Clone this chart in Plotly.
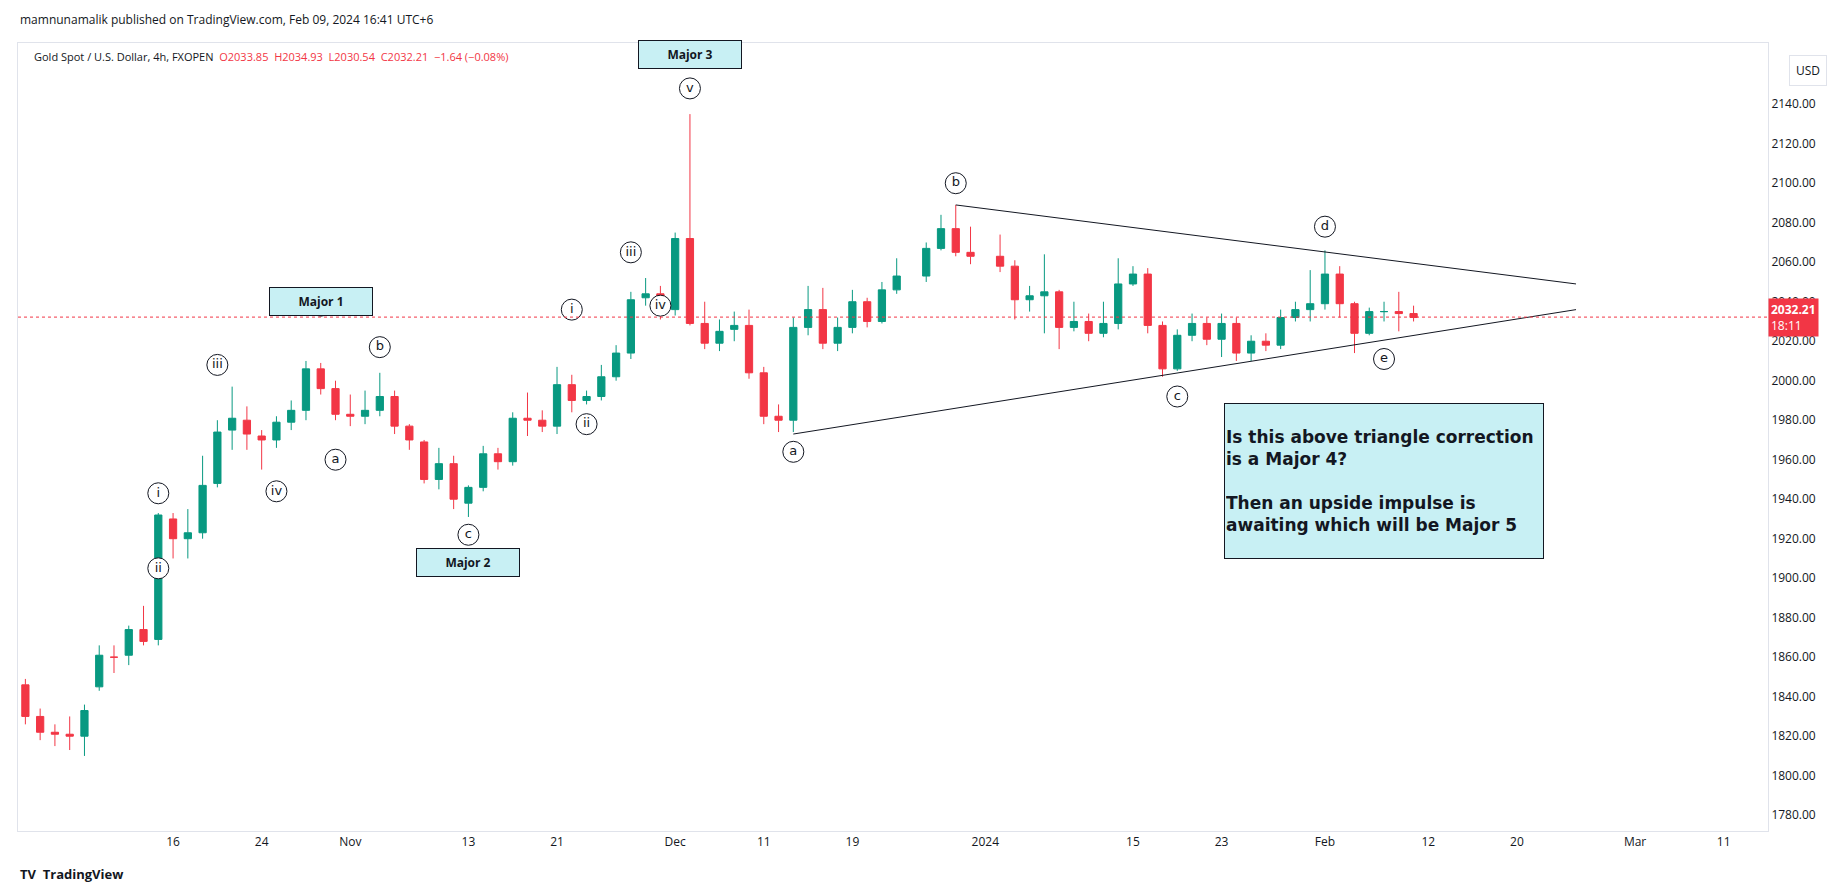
import plotly.graph_objects as go

# daily candles (trading days only)
dates = ["2023-10-02", "2023-10-03", "2023-10-04", "2023-10-05", "2023-10-06",
         "2023-10-09", "2023-10-10", "2023-10-11", "2023-10-12", "2023-10-13",
         "2023-10-16", "2023-10-17", "2023-10-18", "2023-10-19", "2023-10-20",
         "2023-10-23", "2023-10-24", "2023-10-25", "2023-10-26", "2023-10-27",
         "2023-10-30", "2023-10-31", "2023-11-01", "2023-11-02", "2023-11-03",
         "2023-11-06", "2023-11-07", "2023-11-08", "2023-11-09", "2023-11-10",
         "2023-11-13", "2023-11-14", "2023-11-15", "2023-11-16", "2023-11-17",
         "2023-11-20", "2023-11-21", "2023-11-22", "2023-11-23", "2023-11-24",
         "2023-11-27", "2023-11-28", "2023-11-29", "2023-11-30", "2023-12-01",
         "2023-12-04", "2023-12-05", "2023-12-06", "2023-12-07", "2023-12-08",
         "2023-12-11", "2023-12-12", "2023-12-13", "2023-12-14", "2023-12-15",
         "2023-12-18", "2023-12-19", "2023-12-20", "2023-12-21", "2023-12-22",
         "2023-12-26", "2023-12-27", "2023-12-28", "2023-12-29", "2024-01-02",
         "2024-01-03", "2024-01-04", "2024-01-05", "2024-01-08", "2024-01-09",
         "2024-01-10", "2024-01-11", "2024-01-12", "2024-01-15", "2024-01-16",
         "2024-01-17", "2024-01-18", "2024-01-19", "2024-01-22", "2024-01-23",
         "2024-01-24", "2024-01-25", "2024-01-26", "2024-01-29", "2024-01-30",
         "2024-01-31", "2024-02-01", "2024-02-02", "2024-02-05", "2024-02-06",
         "2024-02-07", "2024-02-08", "2024-02-09"]
opens = [1846, 1830, 1822, 1821, 1820, 1845, 1860, 1861, 1874, 1869,
         1930, 1920, 1923, 1948, 1975, 1980, 1972, 1970, 1979, 1985,
         2006, 1996, 1983, 1982, 1985, 1992, 1977, 1969, 1950, 1958,
         1938, 1946, 1963, 1959, 1981, 1980, 1977, 1998, 1990, 1992,
         2002, 2014, 2042, 2044, 2036, 2072, 2029, 2019, 2026, 2028,
         2004, 1982, 1980, 2027, 2036, 2019, 2027, 2040, 2030, 2046,
         2053, 2067, 2077, 2065, 2063, 2058, 2041, 2043, 2045, 2027,
         2030, 2024, 2029, 2049, 2054, 2028, 2006, 2023, 2029, 2021,
         2029, 2014, 2020, 2018, 2032, 2036, 2039, 2054, 2039, 2024,
         2035, 2035, 2034]
highs = [1849, 1834, 1826, 1830, 1836, 1866, 1866, 1876, 1886, 1933,
         1933, 1935, 1962, 1980, 1997, 1987, 1975, 1982, 1990, 2010,
         2009, 2000, 1993, 1995, 2004, 1995, 1978, 1970, 1966, 1962,
         1947, 1967, 1966, 1984, 1994, 1985, 2007, 2003, 1995, 2008,
         2018, 2045, 2052, 2048, 2075, 2135, 2040, 2031, 2035, 2036,
         2007, 1988, 2032, 2048, 2047, 2032, 2046, 2042, 2050, 2062,
         2070, 2084, 2089, 2078, 2074, 2061, 2048, 2064, 2046, 2040,
         2034, 2040, 2062, 2058, 2057, 2030, 2026, 2034, 2032, 2034,
         2032, 2023, 2024, 2036, 2040, 2056, 2066, 2058, 2040, 2037,
         2040, 2045, 2038]
lows = [1826, 1818, 1815, 1813, 1810, 1843, 1852, 1856, 1866, 1866,
         1910, 1910, 1920, 1946, 1965, 1965, 1955, 1966, 1975, 1980,
         1993, 1980, 1977, 1978, 1982, 1973, 1965, 1948, 1945, 1935,
         1931, 1944, 1955, 1957, 1972, 1974, 1973, 1984, 1988, 1990,
         2000, 2011, 2038, 2031, 2033, 2028, 2016, 2015, 2020, 2001,
         1978, 1974, 1974, 2023, 2016, 2015, 2024, 2027, 2029, 2044,
         2050, 2066, 2063, 2059, 2055, 2031, 2035, 2024, 2016, 2025,
         2020, 2022, 2026, 2048, 2024, 2002, 2005, 2020, 2018, 2012,
         2010, 2010, 2015, 2016, 2030, 2030, 2036, 2032, 2014, 2023,
         2030, 2025, 2030]
closes = [1830, 1822, 1821, 1820, 1833, 1861, 1860, 1874, 1868, 1932,
          1920, 1923, 1947, 1974, 1981, 1973, 1970, 1979, 1985, 2006,
          1996, 1983, 1982, 1985, 1992, 1977, 1970, 1950, 1958, 1940,
          1946, 1963, 1959, 1981, 1980, 1977, 1998, 1990, 1992, 2002,
          2014, 2041, 2044, 2036, 2072, 2029, 2019, 2025, 2028, 2004,
          1982, 1980, 2027, 2036, 2019, 2027, 2040, 2030, 2046, 2053,
          2067, 2077, 2065, 2063, 2058, 2041, 2043, 2045, 2027, 2030,
          2024, 2029, 2049, 2054, 2028, 2006, 2023, 2029, 2021, 2029,
          2014, 2020, 2018, 2032, 2036, 2039, 2054, 2039, 2024, 2035,
          2035, 2034, 2032]

# Elliott wave circle labels
wave_text = ["i", "ii", "iii", "iv", "v", "a", "b", "c",
             "i", "ii", "iii", "iv", "v", "a", "b", "c", "d", "e"]
wave_x = ["2023-10-13", "2023-10-13", "2023-10-19", "2023-10-25", "2023-10-30",
          "2023-10-31", "2023-11-03", "2023-11-13", "2023-11-22", "2023-11-23",
          "2023-11-28", "2023-11-30", "2023-12-04", "2023-12-13", "2023-12-28",
          "2024-01-18", "2024-02-01", "2024-02-07"]
wave_y = [1943, 1905, 2008, 1944, 2038, 1960, 2017, 1922, 2036, 1978,
          2065, 2038, 2148, 1964, 2100, 1992, 2078, 2011]

major_text = ["Major 1", "Major 2", "Major 3"]
major_x = ["2023-10-30", "2023-11-13", "2023-12-04"]
major_y = [2040, 1908, 2165]

# triangle trendlines
lower_line = (["2023-12-13", "2024-02-26"], [1973, 2036])
upper_line = (["2023-12-28", "2024-02-26"], [2089, 2049])

last_price = 2032.21
price_ticks = list(range(1780, 2141, 20))
tick_vals = ["2023-10-16", "2023-10-24", "2023-11-01", "2023-11-13", "2023-11-21",
             "2023-12-01", "2023-12-11", "2023-12-19", "2024-01-01", "2024-01-15",
             "2024-01-23", "2024-02-01", "2024-02-12", "2024-02-20", "2024-03-01",
             "2024-03-11"]
tick_text = ["16", "24", "Nov", "13", "21", "Dec", "11", "19", "2024", "15",
             "23", "Feb", "12", "20", "Mar", "11"]

fig = go.Figure()
fig.add_trace(go.Candlestick(
    x=dates, open=opens, high=highs, low=lows, close=closes,
    increasing=dict(line=dict(color="#089981", width=1), fillcolor="#089981"),
    decreasing=dict(line=dict(color="#f23645", width=1), fillcolor="#f23645"),
    whiskerwidth=0, showlegend=False, hoverinfo="skip"))

for xs, ys in (lower_line, upper_line):
    fig.add_trace(go.Scatter(x=xs, y=ys, mode="lines",
                             line=dict(color="#131722", width=1), showlegend=False))

fig.add_trace(go.Scatter(
    x=wave_x, y=wave_y, mode="markers+text", text=wave_text,
    textposition="middle center",
    textfont=dict(family="DejaVu Sans", size=13, color="#131722"),
    marker=dict(symbol="circle", size=21, color="white",
                line=dict(color="#131722", width=1)),
    showlegend=False))

for t, x, y in zip(major_text, major_x, major_y):
    fig.add_annotation(x=x, y=y, text="<b>" + t + "</b>", showarrow=False,
                       bgcolor="#c8f0f4", bordercolor="#131722", borderwidth=1,
                       borderpad=5, width=92,
                       font=dict(family="Open Sans", size=12, color="#131722"))

fig.add_annotation(
    x="2024-02-07", y=1949, showarrow=False, align="left", width=316, height=152,
    text="<b>Is this above triangle correction<br>is a Major 4?<br><br>"
         "Then an upside impulse is<br>awaiting which will be Major 5</b>",
    bgcolor="#c8f0f4", bordercolor="#131722", borderwidth=1,
    font=dict(family="DejaVu Sans", size=17, color="#131722"))

fig.add_hline(y=last_price, line=dict(color="#f23645", width=1, dash="dot"))
fig.add_annotation(xref="paper", x=1.0, xanchor="left", y=last_price,
                   text="<b>2032.21</b><br>18:11", showarrow=False, align="left",
                   bgcolor="#f23645", font=dict(color="white", size=12,
                                                family="Open Sans"),
                   borderpad=2)

fig.add_annotation(xref="paper", yref="paper", x=0, y=1.043, xanchor="left",
                   yanchor="top", showarrow=False,
                   text="mamnunamalik published on TradingView.com, Feb 09, 2024 16:41 UTC+6",
                   font=dict(family="Open Sans", size=12, color="#131722"))
fig.add_annotation(
    xref="paper", yref="paper", x=0.008, y=0.995, xanchor="left", yanchor="top",
    showarrow=False,
    text="Gold Spot / U.S. Dollar, 4h, FXOPEN  <span style='color:#f23645'>"
         "O2033.85  H2034.93  L2030.54  C2032.21  \u22121.64 (\u22120.08%)</span>",
    font=dict(family="Open Sans", size=11, color="#131722"))
fig.add_annotation(xref="paper", yref="paper", x=1.012, y=0.985, xanchor="left",
                   yanchor="top", showarrow=False, text="USD", bordercolor="#e0e3eb",
                   borderwidth=1, borderpad=6,
                   font=dict(family="Open Sans", size=12, color="#131722"))
fig.add_annotation(xref="paper", yref="paper", x=0, y=-0.04, xanchor="left",
                   yanchor="top", showarrow=False, text="<b>TV  TradingView</b>",
                   font=dict(family="Open Sans", size=13, color="#131722"))

fig.update_layout(
    width=1835, height=883, plot_bgcolor="white", paper_bgcolor="white",
    margin=dict(l=10, r=75, t=35, b=60),
    xaxis=dict(type="date", rangeslider=dict(visible=False),
               range=["2023-10-01 12:00", "2024-03-14"],
               rangebreaks=[dict(bounds=["sat", "mon"])],
               tickvals=tick_vals, ticktext=tick_text, showgrid=False,
               showline=True, linecolor="#e0e3eb", mirror=True, ticks="",
               tickfont=dict(family="Open Sans", size=12, color="#131722")),
    yaxis=dict(side="right", range=[1772, 2171], tickvals=price_ticks,
               tickformat=".2f", showgrid=False, showline=True,
               linecolor="#e0e3eb", mirror=True, ticks="",
               tickfont=dict(family="Open Sans", size=12, color="#131722")),
)

fig.write_html("out.html")
